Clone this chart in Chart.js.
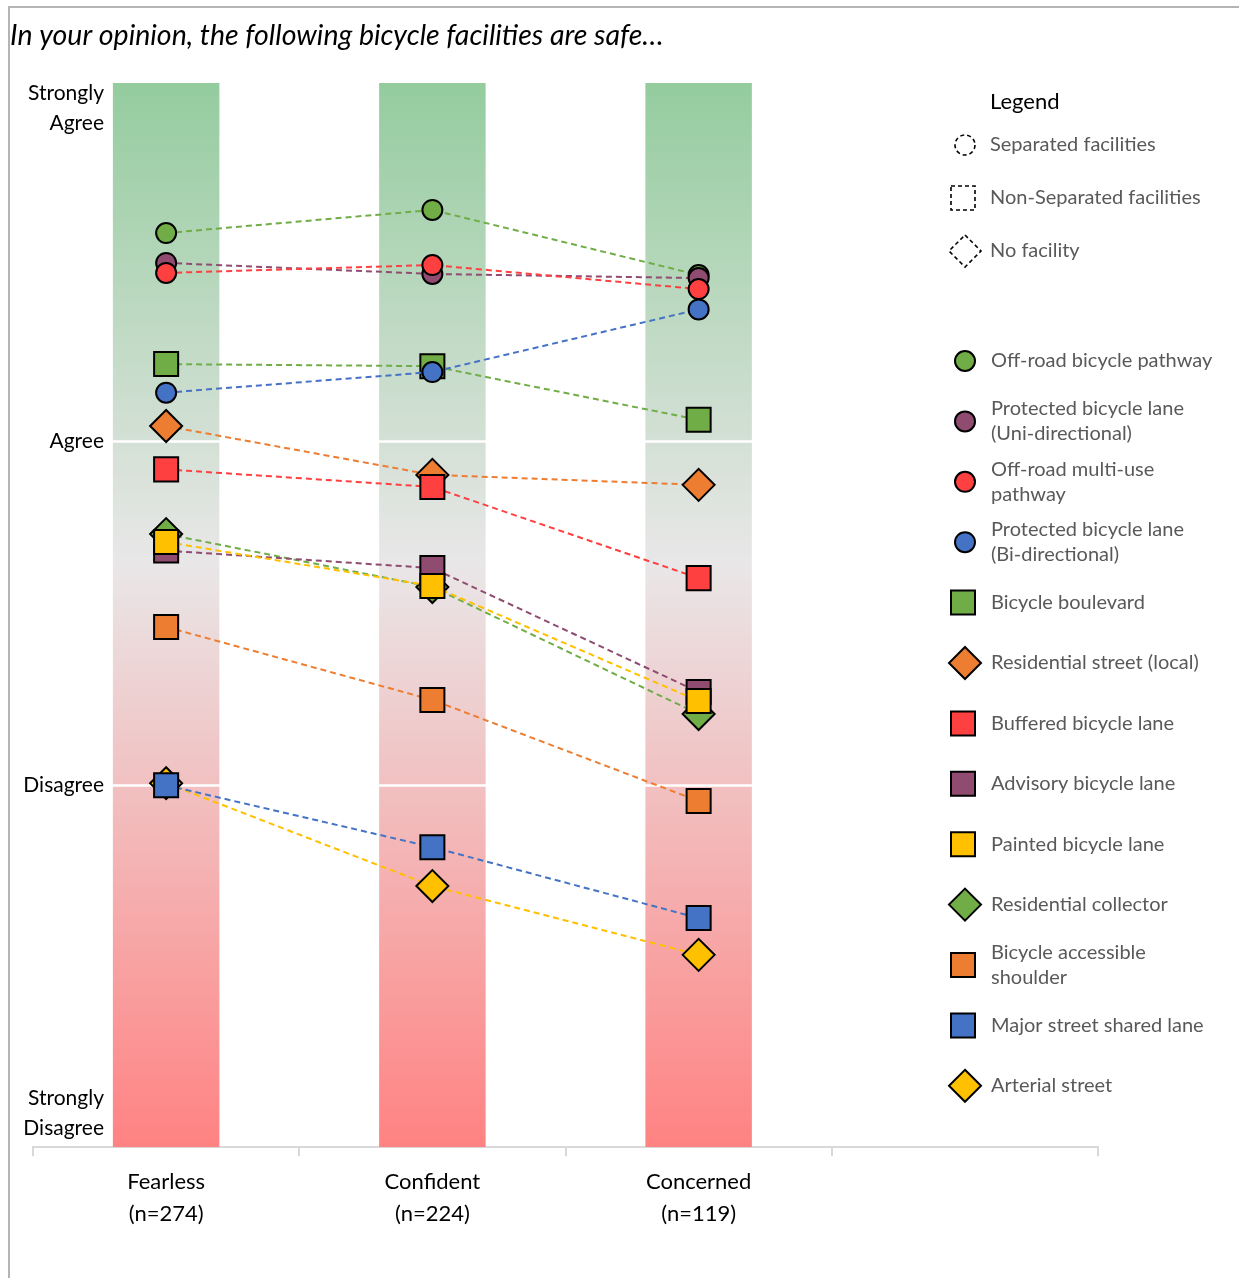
<!DOCTYPE html>
<html>
<head>
<meta charset="utf-8">
<title>Bicycle facility safety by rider type</title>
<script src="https://cdn.jsdelivr.net/npm/chart.js@4.4.1/dist/chart.umd.min.js"></script>
<style>
  html, body { margin: 0; padding: 0; background: #fff; }
  #wrap { position: relative; width: 1239px; height: 1278px; }
  #frame {
    position: absolute; left: 8px; top: 6px; right: 0; bottom: 0;
    border-left: 2px solid #b4b4b4; border-top: 2px solid #b4b4b4;
    pointer-events: none;
  }
</style>
</head>
<body>
<div id="wrap"><canvas id="chart"></canvas><div id="frame"></div></div>
<script>
// ── Data ─────────────────────────────────────────────────────────────────────

const TITLE = "In your opinion, the following bicycle facilities are safe…";

const GROUPS   = ["Fearless", "Confident", "Concerned"];
const SAMPLE_N = [274, 224, 119];

// Likert steps (1 = strongly disagree … 4 = strongly agree)
const SCALE_STEPS = [1, 2, 3, 4];
const SCALE_NAMES = [["Strongly", "Disagree"], ["Disagree"], ["Agree"], ["Strongly", "Agree"]];

const FACILITIES = [
  ["Off-road bicycle pathway"],
  ["Protected bicycle lane", "(Uni-directional)"],
  ["Off-road multi-use", "pathway"],
  ["Protected bicycle lane", "(Bi-directional)"],
  ["Bicycle boulevard"],
  ["Residential street (local)"],
  ["Buffered bicycle lane"],
  ["Advisory bicycle lane"],
  ["Painted bicycle lane"],
  ["Residential collector"],
  ["Bicycle accessible", "shoulder"],
  ["Major street shared lane"],
  ["Arterial street"],
];

// separated / non-separated / none
const FACILITY_TYPE = ["sep", "sep", "sep", "sep", "non", "none", "non", "non", "non", "none", "non", "non", "none"];

const TYPE_NAMES = [["sep", "Separated facilities"], ["non", "Non-Separated facilities"], ["none", "No facility"]];

// mean rating per facility, one array per rider group
const fearless  = [3.606, 3.519, 3.490, 3.142, 3.225, 3.045, 2.919, 2.683, 2.708, 2.731, 2.461, 2.001, 2.007];
const confident = [3.673, 3.487, 3.513, 3.202, 3.219, 2.903, 2.868, 2.632, 2.580, 2.577, 2.249, 1.821, 1.708];
const concerned = [3.484, 3.475, 3.443, 3.384, 3.063, 2.874, 2.603, 2.272, 2.246, 2.208, 1.955, 1.615, 1.508];

// ── Style ────────────────────────────────────────────────────────────────────

const FONT = "Lato, 'Open Sans', sans-serif";
const GREEN  = "#70AD47";
const PURPLE = "#8F4C70";
const RED    = "#FF4040";
const BLUE   = "#4472C4";
const ORANGE = "#ED7D31";
const YELLOW = "#FFC000";

const COLORS = [GREEN, PURPLE, RED, BLUE, GREEN, ORANGE, RED, PURPLE, YELLOW, GREEN, ORANGE, BLUE, YELLOW];

const SHAPE  = { sep: "circle", non: "rect", none: "rectRot" };
const RADIUS = { circle: 10, rect: 17, rectRot: 16 };
const LAYER  = { circle: 1, rect: 2, rectRot: 3 };   // diamonds under squares under circles

const Y_MIN = 0.949;
const Y_MAX = 4.042;

// ── Helpers ──────────────────────────────────────────────────────────────────

function bandFill(context) {
  const { chart } = context;
  const area = chart.chartArea;
  if (!area) return "#ddd";
  const g = chart.ctx.createLinearGradient(0, area.top, 0, area.bottom);
  g.addColorStop(0, "#94CC9E");
  g.addColorStop(0.45, "#E9E7E8");
  g.addColorStop(1, "#FF8282");
  return g;
}

function drawMarker(ctx, shape, x, y, fill, dashed) {
  ctx.save();
  ctx.beginPath();
  if (shape === "circle") {
    ctx.arc(x, y, 10, 0, Math.PI * 2);
  } else if (shape === "rect") {
    ctx.rect(x - 12, y - 12, 24, 24);
  } else {
    ctx.moveTo(x, y - 16);
    ctx.lineTo(x + 16, y);
    ctx.lineTo(x, y + 16);
    ctx.lineTo(x - 16, y);
    ctx.closePath();
  }
  if (fill) { ctx.fillStyle = fill; ctx.fill(); }
  ctx.setLineDash(dashed ? [4, 3] : []);
  ctx.lineWidth = dashed ? 1.6 : 2;
  ctx.strokeStyle = "#000";
  ctx.stroke();
  ctx.restore();
}

// ── Overlay: rules, title, axis names, legend ────────────────────────────────

const overlay = {
  id: "overlay",
  afterDatasetDraw(chart, args) {
    if (args.index !== 0) return;
    const { ctx, chartArea, scales: { y } } = chart;
    ctx.save();
    ctx.strokeStyle = "#fff";
    ctx.lineWidth = 2.5;
    [2, 3].forEach(v => {
      const py = y.getPixelForValue(v);
      ctx.beginPath();
      ctx.moveTo(chartArea.left, py);
      ctx.lineTo(chartArea.right, py);
      ctx.stroke();
    });
    ctx.restore();
  },
  afterDraw(chart) {
    const { ctx, chartArea, scales: { y } } = chart;
    ctx.save();

    // title
    ctx.fillStyle = "#000";
    ctx.font = `italic 28.5px ${FONT}`;
    ctx.textBaseline = "middle";
    ctx.textAlign = "left";
    ctx.fillText(TITLE, 10, 36);

    // agreement scale names
    ctx.font = `21px ${FONT}`;
    ctx.textAlign = "right";
    SCALE_STEPS.forEach((v, i) => {
      const lines = SCALE_NAMES[i];
      const py = y.getPixelForValue(v);
      if (lines.length === 1) {
        ctx.fillText(lines[0], 104, py);
      } else {
        const first = Math.min(Math.max(py - 15, chartArea.top + 10), chartArea.bottom - 49);
        lines.forEach((t, k) => ctx.fillText(t, 104, first + k * 30));
      }
    });

    // legend
    ctx.textAlign = "left";
    ctx.fillStyle = "#000";
    ctx.font = `22px ${FONT}`;
    ctx.fillText("Legend", 990, 102);

    ctx.font = `20px ${FONT}`;
    TYPE_NAMES.forEach(([type, name], i) => {
      const shape = SHAPE[type];
      const ly = 145 + i * 53;
      drawMarker(ctx, shape, shape === "rect" ? 963 : 965, ly, null, true);
      ctx.fillStyle = "#595959";
      ctx.fillText(name, 990, ly);
    });

    FACILITIES.forEach((lines, i) => {
      const shape = SHAPE[FACILITY_TYPE[i]];
      const ly = 361 + i * 60.4;
      drawMarker(ctx, shape, shape === "rect" ? 963 : 965, ly, COLORS[i], false);
      ctx.fillStyle = "#595959";
      const first = ly - (lines.length - 1) * 12.5;
      lines.forEach((t, k) => ctx.fillText(t, 991, first + k * 25));
    });

    ctx.restore();
  },
};

// ── Chart ────────────────────────────────────────────────────────────────────

const labels = [...GROUPS.map((g, i) => [g, `(n=${SAMPLE_N[i]})`]), ""];

const bands = {
  type: "bar",
  data: [...GROUPS.map(() => [Y_MIN, Y_MAX]), null],
  backgroundColor: bandFill,
  borderWidth: 0,
  barPercentage: 0.4,
  categoryPercentage: 1,
  order: 100,
};

const lines = FACILITIES.map((name, i) => {
  const shape = SHAPE[FACILITY_TYPE[i]];
  return {
    type: "line",
    label: name.join(" "),
    data: [fearless[i], confident[i], concerned[i]],
    borderColor: COLORS[i],
    borderWidth: 2,
    borderDash: [6, 4],
    fill: false,
    tension: 0,
    pointStyle: shape,
    pointRadius: RADIUS[shape],
    pointHoverRadius: RADIUS[shape],
    pointBackgroundColor: COLORS[i],
    pointBorderColor: "#000",
    pointBorderWidth: 2,
    order: LAYER[shape] - i * 0.01,
  };
});

new Chart(document.getElementById("chart"), {
  type: "bar",
  data: { labels, datasets: [bands, ...lines] },
  options: {
    responsive: true,
    maintainAspectRatio: false,
    animation: false,
    layout: { padding: { left: 33, right: 141, top: 83, bottom: 38 } },
    plugins: { legend: { display: false }, tooltip: { enabled: false } },
    scales: {
      x: {
        offset: true,
        grid: { offset: true, drawOnChartArea: false, drawTicks: true, tickLength: 9, color: "#D9D9D9", lineWidth: 2 },
        border: { display: true, color: "#D9D9D9", width: 2 },
        ticks: {
          color: "#000",
          font: { family: FONT, size: 22, lineHeight: 1.45 },
          padding: 10,
          maxRotation: 0,
          autoSkip: false,
        },
      },
      y: { display: false, min: Y_MIN, max: Y_MAX },
    },
  },
  plugins: [overlay],
});
</script>
</body>
</html>
